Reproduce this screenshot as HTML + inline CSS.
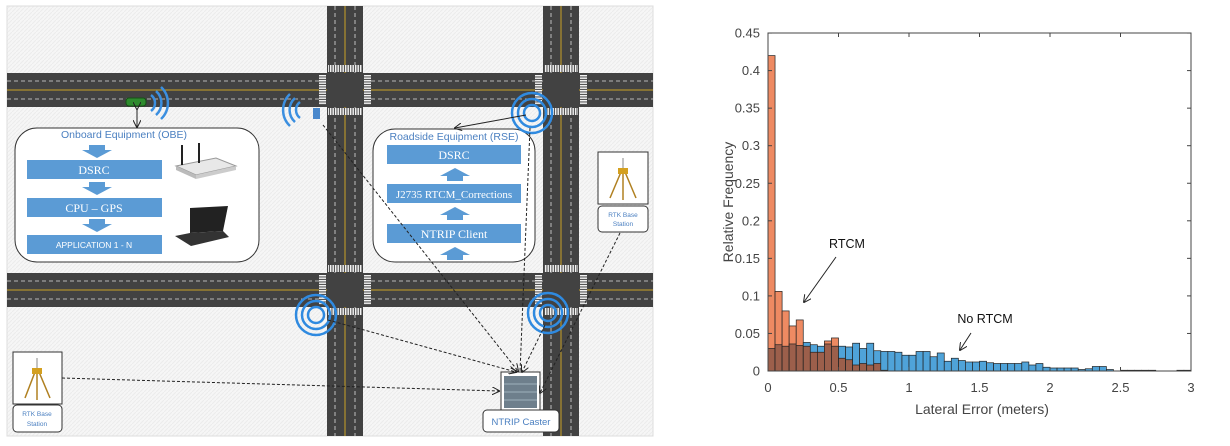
<!DOCTYPE html>
<html><head><meta charset="utf-8"><style>
html,body{margin:0;padding:0;background:#fff;width:1230px;height:446px;overflow:hidden}
svg text{font-family:"Liberation Sans",sans-serif}
.serif{font-family:"Liberation Serif",serif}
</style></head><body>
<svg id="s" width="1230" height="446" viewBox="0 0 1230 446" xmlns="http://www.w3.org/2000/svg">
<defs>
<pattern id="hatch" width="4" height="4" patternUnits="userSpaceOnUse"><rect width="4" height="4" fill="#f6f6f6"/><path d="M0 4L4 0" stroke="#ececec" stroke-width="1"/></pattern>
<pattern id="vs" width="2.5" height="10" patternUnits="userSpaceOnUse"><rect width="2.5" height="10" fill="#555"/><rect width="1.4" height="10" fill="#f2f2f2"/></pattern>
<pattern id="hs" width="10" height="2.5" patternUnits="userSpaceOnUse"><rect width="10" height="2.5" fill="#555"/><rect width="10" height="1.4" fill="#f2f2f2"/></pattern>
<marker id="ar" markerWidth="8" markerHeight="8" refX="7" refY="4" orient="auto" markerUnits="userSpaceOnUse"><path d="M0 0L8 4L0 8" fill="none" stroke="#222" stroke-width="1"/></marker>
</defs>
<rect x="7" y="6" width="646" height="430" fill="url(#hatch)" stroke="#ddd"/>
<g id="roads"></g>
<!-- OBE -->
<rect x="15" y="128" width="244" height="134" rx="22" fill="#fff" stroke="#333" stroke-width="1"/>
<text x="124" y="138" font-size="10.5" fill="#4a7fc0" text-anchor="middle">Onboard Equipment (OBE)</text>
<g fill="#5b9bd5">
<rect x="27" y="160" width="135" height="19"/><rect x="27" y="198" width="135" height="19"/><rect x="27" y="235" width="135" height="19"/>
<path d="M89 145h16v5h7l-15 8l-15-8h7z"/><path d="M89 182h16v5h7l-15 8l-15-8h7z"/><path d="M89 219h16v5h7l-15 8l-15-8h7z"/>
</g>
<text x="94" y="174" font-size="12" fill="#fff" text-anchor="middle" class="serif">DSRC</text>
<text x="94" y="212" font-size="12" fill="#fff" text-anchor="middle" class="serif">CPU – GPS</text>
<text x="94" y="248" font-size="8.5" fill="#fff" text-anchor="middle">APPLICATION 1 - N</text>
<!-- router -->
<path d="M176 166l40-8l20 8l-40 9z" fill="#e8e8e8" stroke="#999"/><path d="M176 166v4l20 9v-4z" fill="#bbb"/><path d="M196 175v4l40-9v-4z" fill="#ccc"/>
<line x1="182" y1="165" x2="182" y2="145" stroke="#222" stroke-width="2"/><line x1="199" y1="163" x2="199" y2="143" stroke="#222" stroke-width="2"/>
<!-- laptop -->
<path d="M190 208l38-2l-5 25l-33 2z" fill="#222"/><path d="M175 236l15-3l33-2l6 6l-38 9z" fill="#333"/>
<!-- RSE -->
<rect x="373" y="129" width="162" height="133" rx="22" fill="#fff" stroke="#333"/>
<text x="454" y="140" font-size="10.5" fill="#4a7fc0" text-anchor="middle">Roadside Equipment (RSE)</text>
<g fill="#5b9bd5">
<rect x="387" y="145" width="134" height="19"/><rect x="387" y="184" width="134" height="19"/><rect x="387" y="224" width="134" height="19"/>
<path d="M447 181v-5h-7l15-8l15 8h-7v5z"/><path d="M447 220v-5h-7l15-8l15 8h-7v5z"/><path d="M447 260v-5h-7l15-8l15 8h-7v5z"/>
</g>
<text x="454" y="159" font-size="12" fill="#fff" text-anchor="middle" class="serif">DSRC</text>
<text x="454" y="198" font-size="11" fill="#fff" text-anchor="middle" class="serif">J2735 RTCM_Corrections</text>
<text x="454" y="238" font-size="12" fill="#fff" text-anchor="middle" class="serif">NTRIP Client</text>
<!-- car -->
<rect x="126" y="98" width="20" height="8" rx="3" fill="#2e8b2e" stroke="#155015"/>
<g fill="none" stroke="#3b8fe0" stroke-width="2.5"><path d="M151 95a10 10 0 0 1 0 16"/><path d="M156 91a16 16 0 0 1 0 24"/><path d="M161 87a22 22 0 0 1 0 32"/>
<path d="M300 102a10 10 0 0 0 0 16"/><path d="M295 98a16 16 0 0 0 0 24"/><path d="M290 94a22 22 0 0 0 0 32"/></g>
<line x1="137" y1="109" x2="137" y2="127" stroke="#222" marker-end="url(#ar)" marker-start="url(#ar)"/>
<rect x="313" y="108" width="7" height="11" fill="#4a88cc"/>
<g fill="none" stroke="#2f8ae0" stroke-width="2.5">
<circle cx="532" cy="113" r="8"/><circle cx="532" cy="113" r="14"/><circle cx="532" cy="113" r="20"/>
<circle cx="316" cy="315" r="8"/><circle cx="316" cy="315" r="14"/><circle cx="316" cy="315" r="20"/>
<circle cx="548" cy="313" r="8"/><circle cx="548" cy="313" r="14"/><circle cx="548" cy="313" r="20"/>
</g>
<!-- RTK right -->
<rect x="598" y="152" width="50" height="52" fill="#fff" stroke="#333"/>
<g stroke="#b08020" stroke-width="1.5"><line x1="621" y1="172" x2="610" y2="198"/><line x1="623" y1="172" x2="623" y2="200"/><line x1="625" y1="172" x2="636" y2="198"/></g>
<rect x="618" y="168" width="10" height="6" fill="#d4a020"/><line x1="623" y1="158" x2="623" y2="168" stroke="#888"/>
<rect x="598" y="206" width="50" height="26" rx="4" fill="#fff" stroke="#333"/>
<text x="623" y="217" font-size="6.5" fill="#4a7fc0" text-anchor="middle">RTK Base</text><text x="623" y="226" font-size="6.5" fill="#4a7fc0" text-anchor="middle">Station</text>
<!-- RTK left -->
<rect x="13" y="352" width="49" height="52" fill="#fff" stroke="#333"/>
<g stroke="#b08020" stroke-width="1.5"><line x1="35" y1="372" x2="25" y2="398"/><line x1="37" y1="372" x2="37" y2="400"/><line x1="39" y1="372" x2="50" y2="398"/></g>
<rect x="32" y="368" width="10" height="6" fill="#d4a020"/><line x1="37" y1="358" x2="37" y2="368" stroke="#888"/>
<rect x="13" y="405" width="49" height="27" rx="4" fill="#fff" stroke="#333"/>
<text x="37" y="416" font-size="6.5" fill="#4a7fc0" text-anchor="middle">RTK Base</text><text x="37" y="426" font-size="6.5" fill="#4a7fc0" text-anchor="middle">Station</text>
<!-- Caster -->
<rect x="501" y="372" width="39" height="38" fill="#fff" stroke="#333"/>
<rect x="504" y="376" width="33" height="32" fill="#6e7f8c"/><g stroke="#9fb0bc"><line x1="504" y1="384" x2="537" y2="384"/><line x1="504" y1="392" x2="537" y2="392"/><line x1="504" y1="400" x2="537" y2="400"/></g>
<rect x="483" y="410" width="76" height="22" rx="4" fill="#fff" stroke="#333"/>
<text x="521" y="425" font-size="9.5" fill="#4a7fc0" text-anchor="middle">NTRIP Caster</text>
<!-- dashed -->
<g stroke="#222" stroke-width="1" stroke-dasharray="3,2" fill="none">
<line x1="323" y1="125" x2="518" y2="371" marker-end="url(#ar)"/>
<line x1="328" y1="320" x2="516" y2="372" marker-end="url(#ar)"/>
<line x1="545" y1="325" x2="522" y2="372" marker-end="url(#ar)"/>
<line x1="530" y1="128" x2="520" y2="372"/>
<line x1="620" y1="233" x2="540" y2="393" marker-end="url(#ar)"/>
<line x1="62" y1="378" x2="499" y2="391" marker-end="url(#ar)"/>
</g>
<line x1="526" y1="115" x2="455" y2="128" stroke="#222" marker-end="url(#ar)"/>
<!-- chart -->
<g id="bars"></g>
<rect x="768" y="33" width="423" height="338" fill="none" stroke="#444" stroke-width="1"/>
<g id="axis" font-size="13" fill="#444"></g>
<text x="982" y="414" font-size="14" fill="#444" text-anchor="middle">Lateral Error (meters)</text>
<text transform="translate(733,202) rotate(-90)" font-size="14" fill="#444" text-anchor="middle">Relative Frequency</text>
<text x="847" y="248" font-size="12.5" fill="#111" text-anchor="middle">RTCM</text>
<line x1="836" y1="257" x2="804" y2="302" stroke="#222" marker-end="url(#ar)"/>
<text x="985" y="323" font-size="12.5" fill="#111" text-anchor="middle">No RTCM</text>
<line x1="971" y1="333" x2="960" y2="350" stroke="#222" marker-end="url(#ar)"/>
</svg>
<script>
var NS="http://www.w3.org/2000/svg";
function el(p,t,a){var e=document.createElementNS(NS,t);for(var k in a)e.setAttribute(k,a[k]);p.appendChild(e);return e;}
var R=document.getElementById('roads');
[[73,107],[273,307]].forEach(function(r){
 el(R,'rect',{x:7,y:r[0],width:646,height:r[1]-r[0],fill:'#424242'});
 var m=(r[0]+r[1])/2;
 el(R,'line',{x1:7,y1:m,x2:653,y2:m,stroke:'#c9a227','stroke-width':1});
 el(R,'line',{x1:7,y1:r[0]+8,x2:653,y2:r[0]+8,stroke:'#ddd','stroke-dasharray':'4,3','stroke-width':0.8});
 el(R,'line',{x1:7,y1:r[1]-8,x2:653,y2:r[1]-8,stroke:'#ddd','stroke-dasharray':'4,3','stroke-width':0.8});
});
[[327,363],[543,579]].forEach(function(r){
 el(R,'rect',{x:r[0],y:6,width:r[1]-r[0],height:430,fill:'#424242'});
 var m=(r[0]+r[1])/2;
 el(R,'line',{x1:m,y1:6,x2:m,y2:436,stroke:'#c9a227','stroke-width':1});
 el(R,'line',{x1:r[0]+8,y1:6,x2:r[0]+8,y2:436,stroke:'#ddd','stroke-dasharray':'4,3','stroke-width':0.8});
 el(R,'line',{x1:r[1]-8,y1:6,x2:r[1]-8,y2:436,stroke:'#ddd','stroke-dasharray':'4,3','stroke-width':0.8});
 [[73,107],[273,307]].forEach(function(h){
  el(R,'rect',{x:r[0],y:h[0],width:r[1]-r[0],height:h[1]-h[0],fill:'#424242'});
  el(R,'rect',{x:r[0]+1,y:h[0]-8,width:r[1]-r[0]-2,height:7,fill:'url(#vs)'});
  el(R,'rect',{x:r[0]+1,y:h[1]+1,width:r[1]-r[0]-2,height:7,fill:'url(#vs)'});
  el(R,'rect',{x:r[0]-8,y:h[0]+2,width:7,height:h[1]-h[0]-4,fill:'url(#hs)'});
  el(R,'rect',{x:r[1]+1,y:h[0]+2,width:7,height:h[1]-h[0]-4,fill:'url(#hs)'});
 });
});
var B=document.getElementById('bars');
var o=[0.42,0.106,0.08,0.06,0.068,0.033,0.025,0.025,0.04,0.044,0.017,0.015,0.008,0.01,0.008,0.01,0.001,0,0,0,0,0,0,0,0,0,0,0,0,0,0,0,0,0,0,0,0,0,0,0,0,0,0,0,0,0,0,0,0,0,0,0,0,0,0,0,0,0,0,0];
var b=[0.03,0.035,0.033,0.036,0.034,0.038,0.035,0.033,0.036,0.033,0.033,0.032,0.037,0.03,0.037,0.027,0.026,0.026,0.025,0.021,0.021,0.026,0.026,0.019,0.024,0.013,0.017,0.014,0.012,0.012,0.013,0.011,0.01,0.01,0.01,0.01,0.012,0.008,0.01,0.005,0.004,0.004,0.004,0.004,0.002,0.003,0.006,0.006,0.002,0,0.001,0.001,0.001,0.001,0.001,0,0,0,0.001,0.001];
var x0=768,bw=423/60,y0=371,k=751;
for(var i=0;i<60;i++){
 var x=x0+i*bw,mx=Math.max(o[i],b[i]),mn=Math.min(o[i],b[i]);
 if(mx<=0)continue;
 el(B,'rect',{x:x,y:y0-mx*k,width:bw,height:mx*k,fill:o[i]>b[i]?'#ee8a62':'#4fa3d9',stroke:'#222','stroke-width':0.7});
 if(mn>0)el(B,'rect',{x:x,y:y0-mn*k,width:bw,height:mn*k,fill:'#9c5f4b',stroke:'#222','stroke-width':0.7});
}
var A=document.getElementById('axis');
for(var j=0;j<=9;j++){var v=j*0.05,y=y0-v*k;
 var t=el(A,'text',{x:760,y:y+4.5,'text-anchor':'end'});t.textContent=(j==0?'0':(+v.toFixed(2)).toString());
 el(A,'line',{x1:768,y1:y,x2:772,y2:y,stroke:'#444'});el(A,'line',{x1:1187,y1:y,x2:1191,y2:y,stroke:'#444'});}
for(var j=0;j<=6;j++){var x=x0+j*423/6;
 var t=el(A,'text',{x:x,y:392,'text-anchor':'middle'});t.textContent=(j*0.5).toString();
 el(A,'line',{x1:x,y1:371,x2:x,y2:367,stroke:'#444'});el(A,'line',{x1:x,y1:33,x2:x,y2:37,stroke:'#444'});}
</script>
</body></html>
